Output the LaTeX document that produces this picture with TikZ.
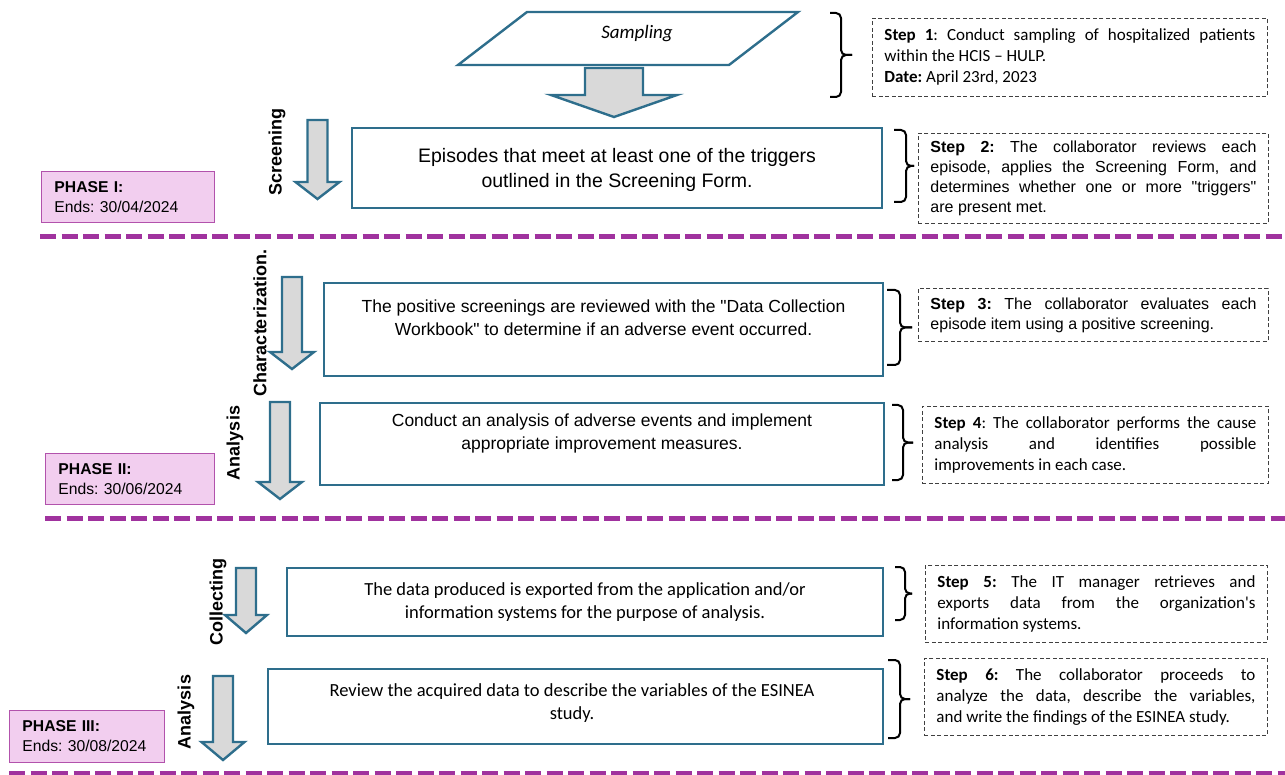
\documentclass[tikz,border=0pt]{standalone}
\usepackage{fontspec}
\setmainfont{Liberation Sans}
\newfontfamily\arial{Liberation Sans}
\newfontfamily\calibri{Carlito}
\usetikzlibrary{calc}
\frenchspacing

\definecolor{flowteal}{RGB}{46,110,140}
\definecolor{arrowgray}{RGB}{217,217,217}
\definecolor{phasepink}{RGB}{242,206,239}
\definecolor{phaseedge}{RGB}{178,82,172}
\definecolor{phasedash}{RGB}{160,50,158}

% block arrow pointing down: centre x, top, half shaft, half head, head y, tip y
\newcommand{\downblock}[6]{%
  \draw[blockarrow] (#1-#3,#2) -- (#1+#3,#2) -- (#1+#3,#5) -- (#1+#4,#5)
    -- (#1,#6) -- (#1-#4,#5) -- (#1-#3,#5) -- cycle;}
% square brace: hook x, line x, tip x, top, bottom
\newcommand{\stepbrace}[5]{%
  \draw[bracket] (#1,#4) -- (#2,#4) -- (#2,{(#4+#5)/2}) -- (#3,{(#4+#5)/2});
  \draw[bracket] (#1,#5) -- (#2,#5) -- (#2,{(#4+#5)/2}) -- (#3,{(#4+#5)/2});}

\tikzset{
  mainbox/.style={draw=flowteal, line width=2.4pt, fill=white, inner sep=0pt},
  arialtext/.style={align=center, font=\arial\fontsize{17.5}{23}\selectfont},
  calibritext/.style={align=center, font=\calibri\fontsize{18.5}{23}\selectfont},
  blockarrow/.style={draw=flowteal, line width=2.4pt, fill=arrowgray, line join=miter},
  stepbox/.style={draw=black!75, dash pattern=on 4pt off 2.5pt, line width=0.9pt,
    anchor=north west, inner xsep=12pt, inner ysep=0pt, align=justify},
  steparial/.style={stepbox, font=\arial\fontsize{16}{20}\selectfont},
  stepcalibri/.style={stepbox, font=\calibri\fontsize{17}{21}\selectfont},
  sidelabel/.style={rotate=90, font=\arial\bfseries\fontsize{18}{20}\selectfont},
  phasebox/.style={draw=phaseedge, line width=0.9pt, fill=phasepink, anchor=north west,
    align=left, inner xsep=13pt, font=\arial\fontsize{15.7}{20}\selectfont},
  phaseline/.style={draw=phasedash, line width=5pt, dash pattern=on 16pt off 5.5pt},
  bracket/.style={draw=black, line width=2pt, rounded corners=5pt}
}

\begin{document}
\begin{tikzpicture}[x=1pt, y=-1pt]
\useasboundingbox (0,0) rectangle (1285,775);

% phase I
\draw[flowteal, line width=2.4pt, fill=white] (527,12) -- (798,12) -- (729,65) -- (458,65) -- cycle;
\node[font=\calibri\itshape\fontsize{19}{22}\selectfont] (sampling) at (637,34) {Sampling};
\downblock{614}{68}{29}{63}{95}{117}
\node[mainbox, minimum width=530pt, minimum height=80pt] (screen) at (617,168) {};
\node[arialtext, font=\arial\fontsize{19.5}{25}\selectfont] (screentext) at (617,170) {Episodes that meet at least one of the triggers\\outlined in the Screening Form.};
\downblock{317.5}{120}{10}{22}{182}{199}
\node[sidelabel] (screenlab) at (277,152) {Screening};
\node[phasebox, text width=147pt, minimum height=51pt] (phase1) at (41,171) {\textbf{PHASE I:}\\Ends: 30/04/2024};

\stepbrace{830}{841}{852}{13}{97}
\node[stepcalibri, text width=371pt, minimum height=78pt] (step1) at (872,18)
  {\textbf{Step 1}: Conduct sampling of hospitalized patients\linebreak within the HCIS – HULP.\\\textbf{Date:} April 23rd, 2023};
\stepbrace{894}{906}{914}{130}{202}
\node[steparial, text width=326pt, minimum height=90pt] (step2) at (918,133)
  {\textbf{Step 2:} The collaborator reviews each\linebreak episode, applies the Screening Form, and\linebreak determines whether one or more "triggers"\linebreak are present met.};

\draw[phaseline] (40,237) -- (1285,237);

% phase II
\downblock{292}{277}{10}{22}{352}{369}
\node[sidelabel] (charlab) at (260,323) {Characterization.};
\node[mainbox, minimum width=559pt, minimum height=93pt] (charbox) at (603.5,329.5) {};
\node[arialtext] (chartext) at (603.5,318) {The positive screenings are reviewed with the "Data Collection\\Workbook" to determine if an adverse event occurred.};
\stepbrace{887}{900}{912}{290}{365}
\node[steparial, text width=326pt, minimum height=53pt] (step3) at (918,288)
  {\textbf{Step 3:} The collaborator evaluates each\linebreak episode item using a positive screening.};

\downblock{280}{402}{10}{22}{482}{499}
\node[sidelabel] (anlab2) at (235,443) {Analysis};
\node[mainbox, minimum width=564pt, minimum height=82pt] (anbox) at (602,444) {};
\node[arialtext] (antext) at (602,433) {Conduct an analysis of adverse events and implement\\appropriate improvement measures.};
\stepbrace{892}{903}{913}{405}{480}
\node[stepcalibri, text width=322pt, minimum height=77pt] (step4) at (922,406)
  {\textbf{Step 4}: The collaborator performs the cause\linebreak analysis and identifies possible\linebreak improvements in each case.};
\node[phasebox, text width=143pt, minimum height=51pt] (phase2) at (45,453) {\textbf{PHASE II:}\\Ends: 30/06/2024};

\draw[phaseline] (45,518) -- (1285,518);

% phase III
\downblock{246}{568}{10}{21}{615}{633}
\node[sidelabel] (collab) at (218,602) {Collecting};
\node[mainbox, minimum width=596pt, minimum height=68pt] (colbox) at (585,602) {};
\node[calibritext] (coltext) at (585,602) {The data produced is exported from the application and/or\\information systems for the purpose of analysis.};
\stepbrace{895}{905}{912}{567}{620}
\node[stepcalibri, text width=318pt, minimum height=77pt] (step5) at (925,565)
  {\textbf{Step 5:} The IT manager retrieves and\linebreak exports data from the organization's\linebreak information systems.};

\downblock{223}{676}{10}{21.5}{742}{760}
\node[sidelabel] (anlab3) at (186,712) {Analysis};
\node[mainbox, minimum width=615pt, minimum height=75pt] (revbox) at (575.5,706.5) {};
\node[calibritext] (revtext) at (572,703) {Review the acquired data to describe the variables of the ESINEA\\study.};
\stepbrace{888}{900}{910}{660}{738}
\node[stepcalibri, text width=319pt, minimum height=77pt] (step6) at (924,658)
  {\textbf{Step 6:} The collaborator proceeds to\linebreak analyze the data, describe the variables,\linebreak and write the findings of the ESINEA study.};
\node[phasebox, text width=129pt, minimum height=52pt] (phase3) at (9,710) {\textbf{PHASE III:}\\Ends: 30/08/2024};

\draw[phaseline] (9,773) -- (1285,773);
\end{tikzpicture}
\end{document}
